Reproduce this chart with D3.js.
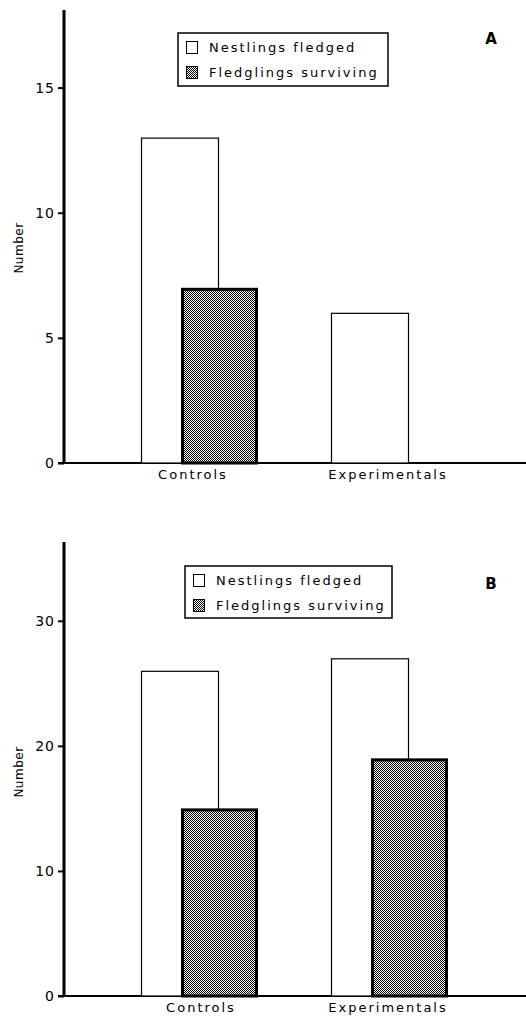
<!DOCTYPE html>
<html><head><meta charset="utf-8">
<script src="https://cdn.jsdelivr.net/npm/d3@7"></script>
<style>
body{margin:0;background:#fff;}
text{font-family:"DejaVu Sans",sans-serif;fill:#000;}
</style></head>
<body>
<svg id="chart" width="526" height="1022"></svg>
<script>
const categories = ["Controls", "Experimentals"];
const seriesNames = ["Nestlings fledged", "Fledglings surviving"];
const nestlingsA = [13, 6];
const fledglingsA = [7, 0];
const nestlingsB = [26, 27];
const fledglingsB = [15, 19];
const ticksA = [0, 5, 10, 15];
const ticksB = [0, 10, 20, 30];
const panelLabels = ["A", "B"];
const yTitle = "Number";

const svg = d3.select("#chart");
const defs = svg.append("defs");
const pat = defs.append("pattern").attr("id","dither").attr("patternUnits","userSpaceOnUse")
  .attr("width",2).attr("height",2);
pat.append("rect").attr("width",2).attr("height",2).attr("fill","#fff");
pat.append("rect").attr("x",0).attr("y",0).attr("width",1).attr("height",1).attr("fill","#000");
pat.append("rect").attr("x",1).attr("y",1).attr("width",1).attr("height",1).attr("fill","#000");

function drawPanel(o){
  const g = svg.append("g");
  const y = d3.scaleLinear().domain([0, o.ymax]).range([o.y0, o.ytop]);
  const x = d3.scaleBand().domain(categories).range([103, 483]).padding(0);
  const bw = 77;
  const yAxis = d3.axisLeft(y).tickValues(o.ticks).tickSize(6).tickPadding(3).tickFormat(d3.format("d"));
  const ya = g.append("g").attr("transform",`translate(64,0)`).call(yAxis);
  ya.select(".domain").remove();
  ya.selectAll(".tick line").attr("stroke","#000").attr("stroke-width",2);
  ya.selectAll(".tick text").style("font-size","14px").style("letter-spacing","1px");
  g.append("line").attr("x1",64).attr("x2",64).attr("y1",o.ytop).attr("y2",o.y0+1)
    .attr("stroke","#000").attr("stroke-width",3);
  g.append("line").attr("x1",58).attr("x2",526).attr("y1",o.y0).attr("y2",o.y0)
    .attr("stroke","#000").attr("stroke-width",2);
  categories.forEach((c,i)=>{
    const cx = x(c) + x.bandwidth()/2 - 57;
    const vN = o.nest[i];
    if (vN > 0) g.append("rect").attr("x", cx + 0.5).attr("y", y(vN)+0.5)
      .attr("width", bw).attr("height", y(0)-y(vN)-0.5)
      .attr("fill","#fff").attr("stroke","#000").attr("stroke-width",1.2);
    const vF = o.fled[i];
    if (vF > 0) g.append("rect").attr("x", cx + 40 + 1.5).attr("y", y(vF)+1.5)
      .attr("width", bw-3).attr("height", y(0)-y(vF)-1.5)
      .attr("fill","url(#dither)").attr("stroke","#000").attr("stroke-width",3);
  });
  categories.forEach((c,i)=>{
    g.append("text").attr("x", x(c)+x.bandwidth()/2 + (i===0?o.dx:0)).attr("y", o.y0+16)
      .attr("text-anchor","middle").style("font-size","13px").style("letter-spacing","2px").text(c);
  });
  g.append("text").attr("transform",`translate(23,${o.titleY}) rotate(-90)`)
    .attr("text-anchor","middle").style("font-size","12px").style("letter-spacing","0.5px").text(yTitle);
  const L = o.legend;
  g.append("rect").attr("x",L.x).attr("y",L.y).attr("width",L.w).attr("height",L.h)
    .attr("fill","#fff").attr("stroke","#000").attr("stroke-width",1.5);
  seriesNames.forEach((s,i)=>{
    const ly = L.y + 8 + i*25;
    g.append("rect").attr("x",L.x+8.5).attr("y",ly+0.5).attr("width",11).attr("height",12)
      .attr("fill", i===0?"#fff":"url(#dither)").attr("stroke","#000").attr("stroke-width",1);
    g.append("text").attr("x",L.x+31).attr("y",ly+11).style("font-size","13px")
      .style("letter-spacing","2px").text(s);
  });
  g.append("text").attr("x",o.lab.x).attr("y",o.lab.y).attr("text-anchor","middle")
    .style("font-size","15px").style("font-weight","bold").text(o.label);
}

drawPanel({ymax:18.1, y0:463, ytop:10, ticks:ticksA, nest:nestlingsA, fled:fledglingsA,
  titleY:248, legend:{x:178,y:33,w:210,h:53}, lab:{x:491,y:44}, label:panelLabels[0], dx:-5});
drawPanel({ymax:36.3, y0:996, ytop:542, ticks:ticksB, nest:nestlingsB, fled:fledglingsB,
  titleY:772, legend:{x:185,y:566,w:207,h:52}, lab:{x:491,y:589}, label:panelLabels[1], dx:3});
</script>
</body></html>
